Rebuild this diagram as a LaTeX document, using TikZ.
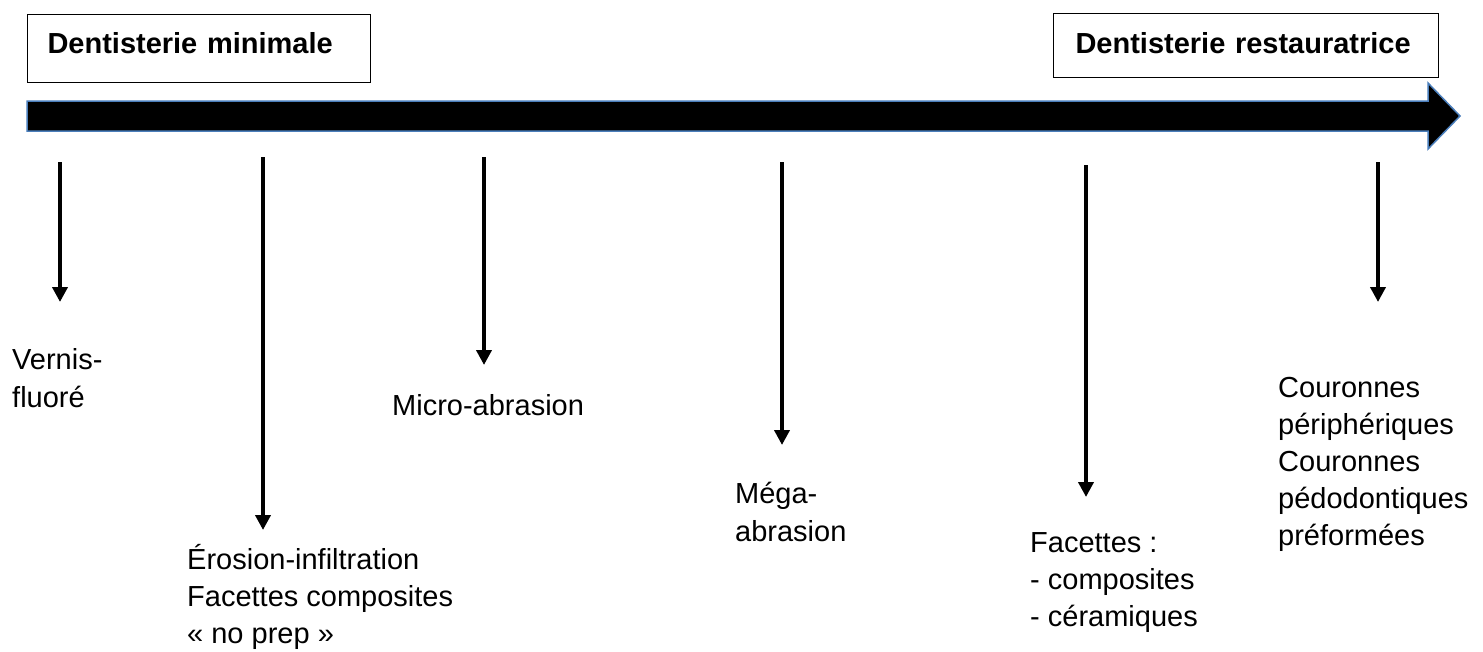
\documentclass[tikz,border=0pt]{standalone}
\usepackage{fontspec}
\setmainfont{Liberation Sans}
\usetikzlibrary{arrows.meta}
\definecolor{axisblue}{RGB}{74,126,187}

\begin{document}
\begin{tikzpicture}[x=1pt,y=-1pt,
    titlebox/.style={draw,line width=1pt,align=left,inner ysep=0pt,
      font=\fontsize{29}{36}\selectfont\bfseries},
    lbl/.style={anchor=base west,inner sep=0pt,align=left,
      font=\fontsize{29}{#1}\selectfont},
    down/.style={line width=4.5pt,-{Triangle[length=15pt,width=15pt]}}]
    \useasboundingbox (0,0) rectangle (1483,651);
    % grande fleche
    \draw[fill=black,draw=axisblue,line width=1.5pt]
      (27,101) -- (1428,101) -- (1428,83) -- (1460,116)
      -- (1428,149) -- (1428,131) -- (27,131) -- cycle;
    % titres
    \node[titlebox,anchor=north west,text width=303pt,inner xsep=20pt,
      text height=39pt,text depth=29pt] (minimale) at (27,14) {Dentisterie minimale};
    \node[titlebox,anchor=north west,text width=341pt,inner xsep=22pt,
      text height=40pt,text depth=24pt] (restauratrice) at (1053,13) {Dentisterie restauratrice};
    % fleches vers le bas
    \foreach \i/\x/\ya/\yb in {1/60/162/302, 2/263/157/530, 3/484/157/365,
                               4/782/162/445, 5/1086/165/497, 6/1378/162/302} {
      \coordinate (top\i) at (\x,\ya);
      \coordinate (bot\i) at (\x,\yb);
      \draw[down] (top\i) -- (bot\i);
    }
    % traitements (ancre = ligne de base de la derniere ligne)
    \node[lbl=38pt] (vernis) at (12,407) {Vernis-\\fluoré};
    \node[lbl=37pt] (erosion) at (187,643) {Érosion-infiltration\\Facettes composites\\« no prep »};
    \node[lbl=37pt] (micro) at (392,415) {Micro-abrasion};
    \node[lbl=38pt] (mega) at (735,541) {Méga-\\abrasion};
    \node[lbl=37pt] (facettes) at (1030,626) {Facettes :\\- composites\\- céramiques};
    \node[lbl=37pt] (couronnes) at (1278,545) {Couronnes\\périphériques\\Couronnes\\pédodontiques\\préformées};
\end{tikzpicture}
\end{document}
